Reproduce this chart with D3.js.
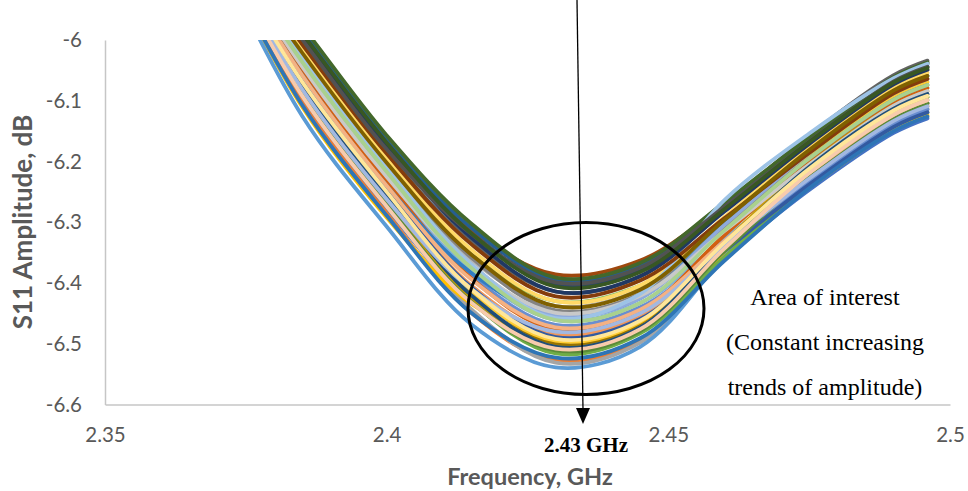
<!DOCTYPE html>
<html>
<head>
<meta charset="utf-8">
<script src="https://cdn.jsdelivr.net/npm/d3@7/dist/d3.min.js"></script>
<style>
  html, body { margin: 0; padding: 0; background: #fff; }
  svg { display: block; }
</style>
</head>
<body>
<svg id="chart" width="968" height="491"></svg>
<script>
// ---- Data ----
const frequencies = [2.37, 2.385, 2.40, 2.415, 2.43, 2.445, 2.46, 2.475, 2.49, 2.496];
const yTickValues = [-6, -6.1, -6.2, -6.3, -6.4, -6.5, -6.6];
const yTickLabels = ["-6", "-6.1", "-6.2", "-6.3", "-6.4", "-6.5", "-6.6"];
const xTickValues = [2.35, 2.4, 2.45, 2.5];
const xTickLabels = ["2.35", "2.4", "2.45", "2.5"];

const s01 = [-5.848, -6.095, -6.277, -6.430, -6.500, -6.469, -6.357, -6.247, -6.153, -6.129];
const s02 = [-5.851, -6.103, -6.285, -6.449, -6.528, -6.495, -6.355, -6.228, -6.133, -6.109];
const s03 = [-5.845, -6.088, -6.270, -6.443, -6.531, -6.498, -6.359, -6.233, -6.138, -6.114];
const s04 = [-5.854, -6.110, -6.292, -6.434, -6.492, -6.462, -6.351, -6.243, -6.148, -6.124];
const s05 = [-5.860, -6.125, -6.307, -6.468, -6.539, -6.505, -6.357, -6.224, -6.128, -6.104];
const s06 = [-5.842, -6.081, -6.262, -6.430, -6.516, -6.483, -6.357, -6.238, -6.143, -6.119];
const s07 = [-5.806, -5.992, -6.172, -6.317, -6.402, -6.377, -6.275, -6.167, -6.068, -6.044];
const s08 = [-5.809, -5.999, -6.180, -6.312, -6.386, -6.363, -6.272, -6.171, -6.073, -6.049];
const s09 = [-5.812, -6.007, -6.187, -6.332, -6.414, -6.389, -6.274, -6.157, -6.058, -6.034];
const s10 = [-5.833, -6.058, -6.240, -6.409, -6.500, -6.469, -6.337, -6.214, -6.118, -6.094];
const s11 = [-5.803, -5.984, -6.165, -6.309, -6.395, -6.372, -6.270, -6.162, -6.063, -6.039];
const s12 = [-5.800, -5.977, -6.157, -6.302, -6.391, -6.367, -6.267, -6.160, -6.061, -6.037];
const s13 = [-5.830, -6.051, -6.232, -6.387, -6.469, -6.440, -6.337, -6.233, -6.138, -6.114];
const s14 = [-5.836, -6.066, -6.247, -6.404, -6.484, -6.454, -6.337, -6.224, -6.128, -6.104];
const s15 = [-5.824, -6.036, -6.217, -6.362, -6.438, -6.411, -6.313, -6.209, -6.113, -6.089];
const s16 = [-5.839, -6.073, -6.255, -6.414, -6.495, -6.464, -6.322, -6.190, -6.093, -6.069];
const s17 = [-5.827, -6.044, -6.225, -6.379, -6.461, -6.433, -6.326, -6.219, -6.123, -6.099];
const s18 = [-5.821, -6.029, -6.210, -6.353, -6.430, -6.404, -6.313, -6.214, -6.118, -6.094];
const s19 = [-5.836, -6.066, -6.247, -6.407, -6.489, -6.459, -6.347, -6.238, -6.143, -6.119];
const s20 = [-5.830, -6.051, -6.232, -6.392, -6.477, -6.447, -6.321, -6.200, -6.103, -6.079];
const s21 = [-5.818, -6.021, -6.202, -6.358, -6.445, -6.418, -6.307, -6.195, -6.098, -6.074];
const s22 = [-5.842, -6.081, -6.262, -6.424, -6.505, -6.473, -6.333, -6.205, -6.108, -6.084];
const s23 = [-5.833, -6.058, -6.240, -6.383, -6.453, -6.425, -6.302, -6.181, -6.083, -6.059];
const s24 = [-5.845, -6.088, -6.270, -6.431, -6.511, -6.479, -6.347, -6.224, -6.128, -6.104];
const s25 = [-5.824, -6.036, -6.217, -6.370, -6.453, -6.425, -6.304, -6.186, -6.088, -6.064];
const s26 = [-5.833, -6.058, -6.240, -6.394, -6.473, -6.444, -6.331, -6.219, -6.123, -6.099];
const s27 = [-5.827, -6.044, -6.225, -6.372, -6.449, -6.421, -6.314, -6.205, -6.108, -6.084];
const s28 = [-5.815, -6.014, -6.195, -6.345, -6.430, -6.404, -6.291, -6.176, -6.078, -6.054];
const s29 = [-5.821, -6.029, -6.210, -6.369, -6.458, -6.418, -6.263, -6.154, -6.063, -6.039];
const s30 = [-5.824, -6.036, -6.217, -6.375, -6.461, -6.433, -6.313, -6.195, -6.098, -6.074];
const s31 = [-5.807, -5.995, -6.175, -6.325, -6.414, -6.389, -6.282, -6.171, -6.073, -6.049];
const s32 = [-5.812, -6.007, -6.187, -6.336, -6.422, -6.396, -6.293, -6.186, -6.088, -6.064];
const s33 = [-5.809, -5.999, -6.180, -6.319, -6.399, -6.375, -6.274, -6.167, -6.068, -6.044];
const s34 = [-5.818, -6.021, -6.202, -6.353, -6.438, -6.411, -6.296, -6.181, -6.083, -6.059];
const s35 = [-5.839, -6.073, -6.255, -6.420, -6.505, -6.473, -6.336, -6.209, -6.113, -6.089];
const s36 = [-5.805, -5.989, -6.169, -6.318, -6.406, -6.382, -6.278, -6.168, -6.070, -6.046];
const s37 = [-5.842, -6.081, -6.262, -6.410, -6.480, -6.450, -6.338, -6.228, -6.133, -6.109];
const s38 = [-5.847, -6.092, -6.274, -6.432, -6.508, -6.476, -6.343, -6.219, -6.123, -6.099];
const s39 = [-5.853, -6.107, -6.289, -6.449, -6.523, -6.491, -6.363, -6.244, -6.150, -6.126];
const s40 = [-5.837, -6.069, -6.250, -6.410, -6.492, -6.462, -6.333, -6.212, -6.116, -6.092];

const seriesList = [s01, s02, s03, s04, s05, s06, s07, s08, s09, s10,
                    s11, s12, s13, s14, s15, s16, s17, s18, s19, s20,
                    s21, s22, s23, s24, s25, s26, s27, s28, s29, s30,
                    s31, s32, s33, s34, s35, s36, s37, s38, s39, s40];

const seriesColors = [
  "#4472C4", "#ED7D31", "#A5A5A5", "#FFC000", "#5B9BD5", "#70AD47",
  "#264478", "#9E480E", "#636363", "#997300", "#255E91", "#43682B",
  "#698ED0", "#F1975A", "#B7B7B7", "#FFCD33", "#7CAFDD", "#8CC168",
  "#335AA1", "#D26012", "#848484", "#CC9A00", "#327DC2", "#5A8A39",
  "#8FAADC", "#F4B183", "#C9C9C9", "#FFD966", "#9DC3E6", "#A9D18E",
  "#203864", "#843C0C", "#525252", "#7F6000", "#1F4E79", "#385723",
  "#A2B8E1", "#F8CBAD", "#2E75B6", "#FFE699"
];

// ---- Layout ----
const svg = d3.select("#chart");
const plot = { left: 105, right: 950, top: 40, bottom: 404.5 };

const x = d3.scaleLinear().domain([2.35, 2.5]).range([plot.left, plot.right]);
const y = d3.scaleLinear().domain([-6.6, -6]).range([plot.bottom, plot.top]);

svg.append("defs").append("clipPath").attr("id", "plotClip")
  .append("rect")
  .attr("x", plot.left).attr("y", plot.top)
  .attr("width", plot.right - plot.left).attr("height", plot.bottom - plot.top);

// Axes
const yAxis = d3.axisLeft(y).tickValues(yTickValues)
  .tickFormat((d, i) => yTickLabels[i]).tickSize(0).tickSizeOuter(0).tickPadding(23);
const xAxis = d3.axisBottom(x).tickValues(xTickValues)
  .tickFormat((d, i) => xTickLabels[i]).tickSize(0).tickSizeOuter(0).tickPadding(23);

const gy = svg.append("g").attr("transform", `translate(${plot.left},0)`).call(yAxis);
const gx = svg.append("g").attr("transform", `translate(0,${plot.bottom})`).call(xAxis);
[gx, gy].forEach(g => {
  g.select(".domain").attr("stroke", "#C6C6C6").attr("stroke-width", 1.5);
  g.selectAll("text").attr("font-family", "Lato, 'Open Sans', sans-serif")
    .attr("font-size", 20.5).attr("fill", "#595959");
});

// Lines
const line = d3.line()
  .x((d, i) => x(frequencies[i]))
  .y(d => y(d))
  .curve(d3.curveCatmullRom.alpha(0.5));

svg.append("g").attr("clip-path", "url(#plotClip)")
  .selectAll("path")
  .data(seriesList)
  .join("path")
  .attr("d", d => line(d))
  .attr("fill", "none")
  .attr("stroke", (d, i) => seriesColors[i % seriesColors.length])
  .attr("stroke-width", 3.8)
  .attr("stroke-linejoin", "round")
  .attr("stroke-linecap", "round");

// Axis titles
svg.append("text")
  .attr("transform", `translate(32,222) rotate(-90)`)
  .attr("text-anchor", "middle")
  .attr("font-family", "Lato, 'Open Sans', sans-serif")
  .attr("font-weight", "bold").attr("font-size", 26)
  .attr("fill", "#595959")
  .text("S11 Amplitude, dB");

svg.append("text")
  .attr("x", 530).attr("y", 485)
  .attr("text-anchor", "middle")
  .attr("font-family", "Lato, 'Open Sans', sans-serif")
  .attr("font-weight", "bold").attr("font-size", 23.5)
  .attr("fill", "#595959")
  .text("Frequency, GHz");

// Annotations: ellipse, arrow, texts
svg.append("ellipse")
  .attr("cx", 586).attr("cy", 308.5).attr("rx", 118).attr("ry", 86)
  .attr("fill", "none").attr("stroke", "#000").attr("stroke-width", 3);

svg.append("line")
  .attr("x1", 577).attr("y1", 0).attr("x2", 583).attr("y2", 410)
  .attr("stroke", "#000").attr("stroke-width", 1.3);
svg.append("path")
  .attr("d", "M576,408 L590,408 L583,424 Z")
  .attr("fill", "#000");

svg.append("text")
  .attr("x", 586).attr("y", 452)
  .attr("text-anchor", "middle")
  .attr("font-family", "'Liberation Serif', 'Times New Roman', serif")
  .attr("font-weight", "bold").attr("font-size", 21)
  .attr("fill", "#000")
  .text("2.43 GHz");

const noteLines = ["Area of interest", "(Constant increasing", "trends of amplitude)"];
const noteY = [305, 350, 395];
svg.append("g").selectAll("text").data(noteLines).join("text")
  .attr("x", 825).attr("y", (d, i) => noteY[i])
  .attr("text-anchor", "middle")
  .attr("font-family", "'Liberation Serif', 'Times New Roman', serif")
  .attr("font-size", 24)
  .attr("fill", "#000")
  .text(d => d);
</script>
</body>
</html>
